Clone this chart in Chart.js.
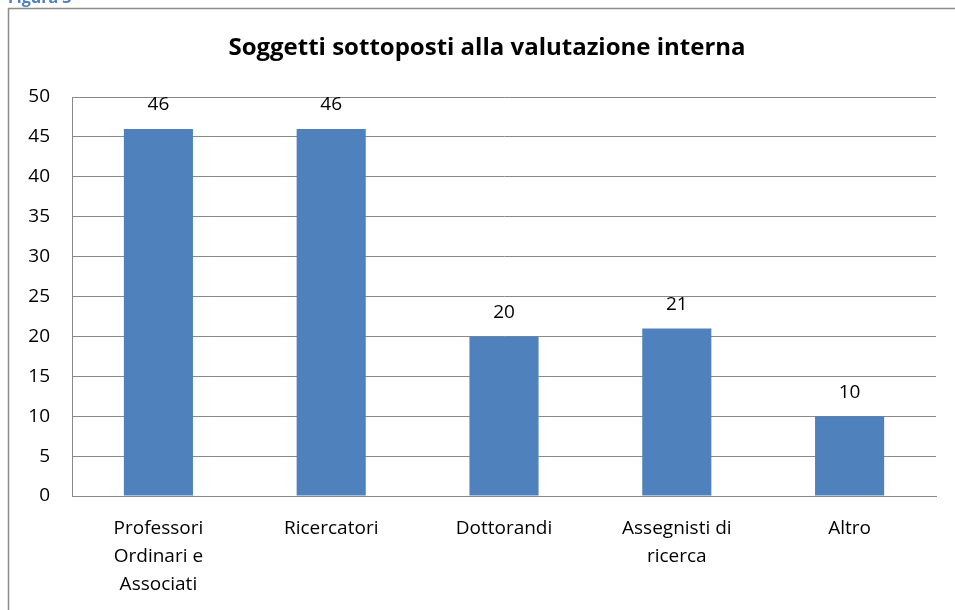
<!DOCTYPE html>
<html>
<head>
<meta charset="utf-8">
<script src="https://cdn.jsdelivr.net/npm/chart.js@4.4.0/dist/chart.umd.min.js"></script>
<style>
  html, body { margin: 0; padding: 0; background: #fff; }
  canvas { display: block; }
</style>
</head>
<body>
<canvas id="barChart" width="955" height="610"></canvas>
<script>
/* Data */
const categories = [
    ["Professori", "Ordinari e", "Associati"],
    "Ricercatori",
    "Dottorandi",
    ["Assegnisti di", "ricerca"],
    "Altro"
];
const soggetti = [46, 46, 20, 21, 10];
const titleText = "Soggetti sottoposti alla valutazione interna";

const FONT = "'Open Sans', 'Liberation Sans', sans-serif";

/* frame, title and value labels */
const decorations = {
    id: 'decorations',
    beforeDraw(chart) {
        const ctx = chart.ctx;
        ctx.save();
        ctx.fillStyle = '#fff';
        ctx.fillRect(0, 0, chart.width, chart.height);
        // outer frame (right and bottom run off the picture)
        ctx.strokeStyle = '#8c8c8c';
        ctx.lineWidth = 1.5;
        ctx.beginPath();
        ctx.moveTo(8.5, chart.height + 5);
        ctx.lineTo(8.5, 8.5);
        ctx.lineTo(chart.width + 5, 8.5);
        ctx.stroke();
        // caption cut off at top
        ctx.fillStyle = '#4F81BD';
        ctx.font = "bold 16px " + FONT;
        ctx.textBaseline = 'alphabetic';
        ctx.fillText("Figura 3", 8, 3);
        // title
        ctx.fillStyle = '#000';
        ctx.font = "bold 24px " + FONT;
        ctx.textAlign = 'center';
        ctx.textBaseline = 'middle';
        ctx.fillText(titleText, 487, 48);
        ctx.restore();
    },
    afterDatasetsDraw(chart) {
        const ctx = chart.ctx;
        const meta = chart.getDatasetMeta(0);
        ctx.save();
        ctx.fillStyle = '#000';
        ctx.font = "19px " + FONT;
        ctx.textAlign = 'center';
        ctx.textBaseline = 'middle';
        meta.data.forEach((bar, i) => {
            ctx.fillText(String(soggetti[i]), bar.x, bar.y - 24);
        });
        ctx.restore();
    }
};

/* Create chart */
const my_chart = new Chart('barChart', {
    type: 'bar',
    data: {
        labels: categories,
        datasets: [{
            label: "Soggetti",
            data: soggetti,
            backgroundColor: '#4F81BD',
            categoryPercentage: 1,
            barPercentage: 0.4
        }]
    },
    plugins: [decorations],
    options: {
        responsive: false,
        animation: false,
        layout: {
            padding: { left: 0, right: 19, top: 97, bottom: 0 }
        },
        scales: {
            x: {
                grid: { display: false, drawTicks: false },
                border: { color: '#898989', width: 1 },
                ticks: {
                    color: '#000',
                    padding: 19,
                    maxRotation: 0,
                    font: { family: FONT, size: 19, lineHeight: 1.47 }
                },
                afterFit(scale) { scale.height = 610 - 496; }
            },
            y: {
                min: 0,
                max: 50,
                grid: { color: '#898989', drawTicks: false },
                border: { color: '#898989', width: 1 },
                ticks: {
                    stepSize: 5,
                    color: '#000',
                    padding: 22,
                    font: { family: FONT, size: 19 }
                },
                afterFit(scale) { scale.width = 72; }
            }
        },
        plugins: {
            legend: { display: false },
            tooltip: { enabled: false }
        }
    }
});
</script>
</body>
</html>
